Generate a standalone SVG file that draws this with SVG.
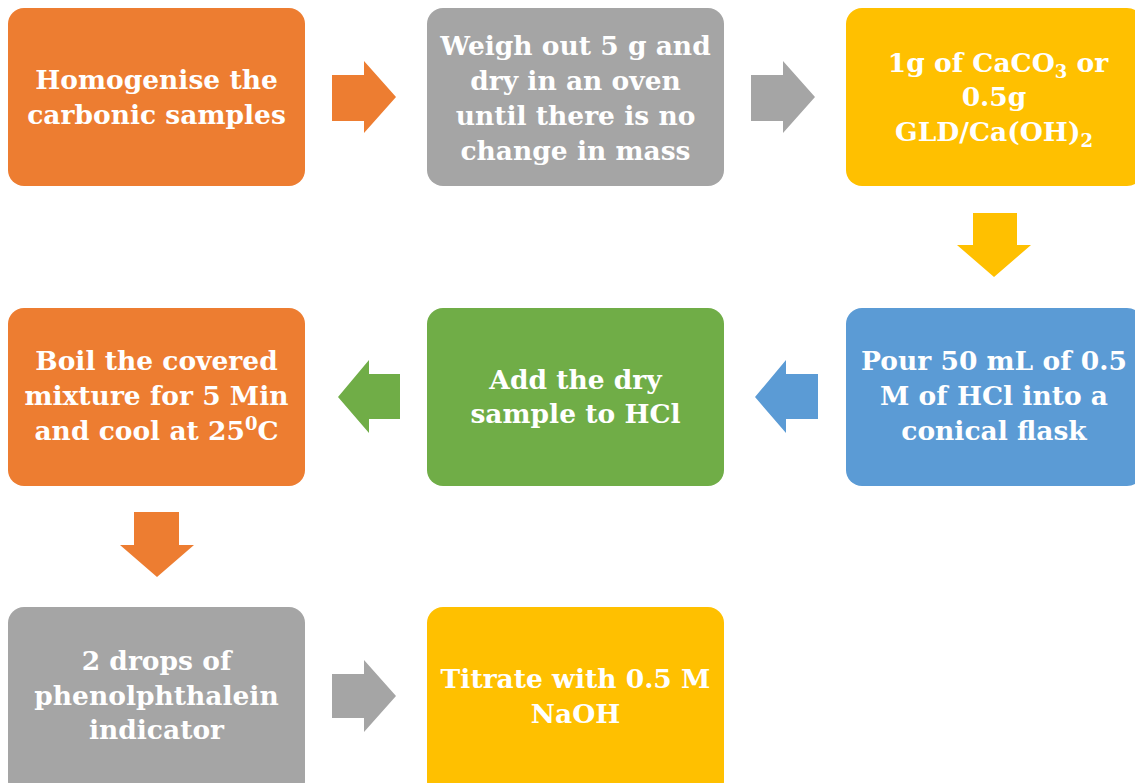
<svg xmlns="http://www.w3.org/2000/svg" width="1135" height="783" viewBox="0 0 1135 783">
<style>
.box{stroke:none}
.or{fill:#ED7D31}.gy{fill:#A5A5A5}.yl{fill:#FFC000}.gr{fill:#70AD47}.bl{fill:#5B9BD5}
text{font-family:"DejaVu Serif","Liberation Serif",serif;font-weight:bold;font-size:26.5px;fill:#FFFFFF;text-anchor:middle}
.sub{font-size:18px}
</style>
<rect width="1135" height="783" fill="#FFFFFF"/>
<g id="connectors">
<path class="or" d="M332,75 H364 V61 L396,97 L364,133 V121 H332 Z"/>
<path class="gy" d="M751,75 H783 V61 L815,97 L783,133 V121 H751 Z"/>
<path class="yl" d="M973,213 H1017 V245 H1031 L994,277 L957,245 H973 Z"/>
<path class="bl" d="M818,374 H786 V360 L755,397 L786,433 V419 H818 Z"/>
<path class="gr" d="M400,374 H369 V360 L338,397 L369,433 V419 H400 Z"/>
<path class="or" d="M134,512 H179 V545 H194 L157,577 L120,545 H134 Z"/>
<path class="gy" d="M332,674 H364 V660 L396,696 L364,732 V718 H332 Z"/>
</g>
<g id="n1">
<rect class="box or" x="8" y="8" width="297" height="178" rx="16"/>
<text x="156.5" y="89">Homogenise the</text>
<text x="156.5" y="124">carbonic samples</text>
</g>
<g id="n2">
<rect class="box gy" x="427" y="8" width="297" height="178" rx="16"/>
<text x="575.5" y="55">Weigh out 5 g and</text>
<text x="575.5" y="90">dry in an oven</text>
<text x="575.5" y="125">until there is no</text>
<text x="575.5" y="160">change in mass</text>
</g>
<g id="n3">
<rect class="box yl" x="846" y="8" width="297" height="178" rx="16"/>
<text x="998" y="72">1g of CaCO<tspan class="sub" dy="6">3</tspan><tspan dy="-6"> or</tspan></text>
<text x="994" y="106">0.5g</text>
<text x="994" y="141">GLD/Ca(OH)<tspan class="sub" dy="6">2</tspan></text>
</g>
<g id="n6">
<rect class="box bl" x="846" y="308" width="297" height="178" rx="16"/>
<text x="994" y="370">Pour 50 mL of 0.5</text>
<text x="994" y="405">M of HCl into a</text>
<text x="994" y="440">conical flask</text>
</g>
<g id="n5">
<rect class="box gr" x="427" y="308" width="297" height="178" rx="16"/>
<text x="575.5" y="389">Add the dry</text>
<text x="575.5" y="423">sample to HCl</text>
</g>
<g id="n4">
<rect class="box or" x="8" y="308" width="297" height="178" rx="16"/>
<text x="156.5" y="370">Boil the covered</text>
<text x="156.5" y="405">mixture for 5 Min</text>
<text x="156.5" y="440">and cool at 25<tspan class="sub" dy="-10">0</tspan><tspan dy="10">C</tspan></text>
</g>
<g id="n7">
<rect class="box gy" x="8" y="607" width="297" height="190" rx="16"/>
<text x="156.5" y="670">2 drops of</text>
<text x="156.5" y="705">phenolphthalein</text>
<text x="156.5" y="739">indicator</text>
</g>
<g id="n8">
<rect class="box yl" x="427" y="607" width="297" height="190" rx="16"/>
<text x="575.5" y="688">Titrate with 0.5 M</text>
<text x="575.5" y="723">NaOH</text>
</g>
</svg>
